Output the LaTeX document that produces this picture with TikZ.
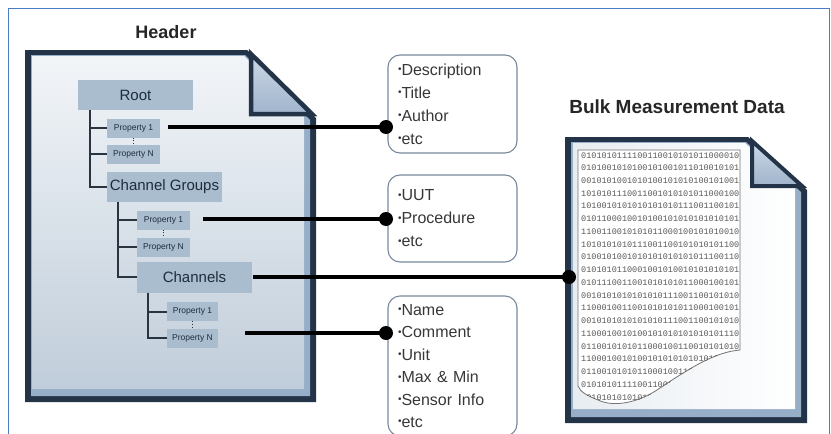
\documentclass[tikz,border=0pt]{standalone}
\usepackage{fontspec}
\setmainfont{Liberation Sans}
\newfontfamily\bitsfont{Liberation Mono}
\definecolor{boxblue}{RGB}{169,189,206}
\definecolor{navytext}{RGB}{30,44,60}
\definecolor{treeline}{RGB}{42,51,64}
\definecolor{infoedge}{RGB}{120,136,156}
\definecolor{infotext}{RGB}{55,55,55}
\definecolor{pagedark}{RGB}{36,52,72}
\definecolor{pagebevel}{RGB}{150,174,200}
\definecolor{pagetop}{RGB}{242,245,248}
\definecolor{pagebottom}{RGB}{192,205,218}
\definecolor{foldtop}{RGB}{205,216,230}
\definecolor{foldbottom}{RGB}{160,180,204}
\definecolor{frameblue}{RGB}{74,124,200}
\newcommand\dotmark{{\fontsize{10}{10}\selectfont\raisebox{2.5pt}{•}}}
\begin{document}
\begin{tikzpicture}[x=1pt,y=-1pt,
  levelbox/.style={fill=boxblue, text=navytext, font=\fontsize{15}{15}\selectfont, minimum width=115pt, minimum height=30pt, inner sep=0pt},
  propbox/.style={fill=boxblue, text=navytext, font=\fontsize{8.5}{8.5}\selectfont, minimum width=53pt, minimum height=19pt, inner sep=0pt},
  infobox/.style={draw=infoedge, line width=1.1pt, rounded corners=12pt, align=left, text width=109pt, minimum width=129pt, inner sep=0pt, font=\fontsize{16}{23}\selectfont, text=infotext},
  branch/.style={draw=treeline, line width=2pt},
  link/.style={draw=black, line width=4.5pt},
  joint/.style={circle, fill=black, minimum size=14pt, inner sep=0pt}]
\useasboundingbox (0,0) rectangle (831,434);

% header page
\fill[pagedark] (25,50) -- (247,50) -- (316,118) -- (316,402) -- (25,402) -- cycle;
\fill[pagebevel] (31,55) -- (245,55) -- (310,120) -- (310,396) -- (31,396) -- cycle;
\shade[top color=pagetop, bottom color=pagebottom] (32,56) -- (244,56) -- (304,116) -- (304,389) -- (32,389) -- cycle;
\path[draw=pagedark, line width=4.5pt, top color=foldtop, bottom color=foldbottom] (251,54) -- (251,114) -- (312,114) -- cycle;
\node[font=\bfseries\fontsize{18}{18}\selectfont, text=black!85] (headtitle) at (166,32) {Header};

% bulk data page
\fill[pagedark] (565,137) -- (748,137) -- (807,190) -- (807,423) -- (565,423) -- cycle;
\fill[pagebevel] (571,142) -- (746,142) -- (801,192) -- (801,417) -- (571,417) -- cycle;
\shade[left color=pagetop!80!pagebottom, right color=white] (573,143) -- (745,143) -- (795,188) -- (795,409) -- (573,409) -- cycle;
\path[draw=pagedark, line width=4pt, top color=foldtop, bottom color=foldbottom] (752,141) -- (752,186) -- (802,186) -- cycle;
\node[font=\bfseries\fontsize{19}{19}\selectfont, text=black!85] (bulktitle) at (677,107) {Bulk Measurement Data};

% torn sheet of numbers
\filldraw[fill=white, draw=black!55, line width=0.8pt] (578,150) -- (740,150) -- (740,350) .. controls (715,352) and (690,368) .. (660,388) .. controls (640,402) and (615,408) .. (598,400) .. controls (588,396) and (580,392) .. (578,386) -- cycle;
\begin{scope}
\clip (578,150) -- (740,150) -- (740,350) .. controls (715,352) and (690,368) .. (660,388) .. controls (640,402) and (615,408) .. (598,400) .. controls (588,396) and (580,392) .. (578,386) -- cycle;
\foreach \bits [count=\i from 0] in {0101010111100110010101011000010,0101001010100101001011010010101,0010101001010100101010100101001,1010101110011001010101011000100,1010010101010101010111001100101,0101100010010100101010101010101,1100110010101011000100101010010,1010101010111001100101010101100,0100101001010101010101011100110,0101010110001001010010101010101,0101110011001010101011000100101,0010101010101010111001100101010,1100010011001010101011000100101,0010101010101010111001100101010,1100010010100101010101010101110,0110010101011000100110010101010,1100010010100101010101010100000,0110010101011000100110010101010,0101010111100110010101010101010,0010101010101010111001100101010}
  \node[anchor=base west, inner sep=0pt, font=\bitsfont\fontsize{8.5}{8.5}\selectfont, text=black!65] (bits\i) at (581,158+12.74*\i) {\bits};
\end{scope}

% tree of header objects
\node[levelbox] (root) at (135.5,95) {Root};
\node[propbox] (rp1) at (133.5,128) {Property 1};
\node[propbox] (rpn) at (133.5,154) {Property N};
\node[levelbox] (grp) at (164.5,187) {Channel Groups};
\node[propbox] (gp1) at (163.5,220) {Property 1};
\node[propbox] (gpn) at (163.5,247) {Property N};
\node[levelbox, minimum height=31pt] (chn) at (194.5,277) {Channels};
\node[propbox, minimum width=51pt] (cp1) at (192.5,311.5) {Property 1};
\node[propbox, minimum width=51pt] (cpn) at (192.5,338) {Property N};
\draw[branch] ([xshift=12pt]root.south west) |- (rp1.west);
\draw[branch] ([xshift=12pt]root.south west) |- (rpn.west);
\draw[branch] ([xshift=12pt]root.south west) |- (grp.west);
\draw[branch] ([xshift=11pt]grp.south west) |- (gp1.west);
\draw[branch] ([xshift=11pt]grp.south west) |- (gpn.west);
\draw[branch] ([xshift=11pt]grp.south west) |- (chn.west);
\draw[branch] ([xshift=11pt]chn.south west) |- (cp1.west);
\draw[branch] ([xshift=11pt]chn.south west) |- (cpn.west);
\draw[treeline, dotted, line width=0.7pt] (rp1.south) -- (rpn.north);
\draw[treeline, dotted, line width=0.7pt] (gp1.south) -- (gpn.north);
\draw[treeline, dotted, line width=0.7pt] (cp1.south) -- (cpn.north);

% property lists
\node[infobox, minimum height=98pt] (info1) at (452.5,104) {\dotmark{}Description\\\dotmark{}Title\\\dotmark{}Author\\\dotmark{}etc};
\node[infobox, minimum height=87pt] (info2) at (452.5,218.5) {\dotmark{}UUT\\\dotmark{}Procedure\\\dotmark{}etc};
\node[infobox, minimum height=140pt, font=\fontsize{16}{22.4}\selectfont] (info3) at (452.5,366) {\dotmark{}Name\\\dotmark{}Comment\\\dotmark{}Unit\\\dotmark{}Max \& Min\\\dotmark{}Sensor Info\\\dotmark{}etc};

% connectors
\node[joint] (d1) at (386,127) {};
\node[joint] (d2) at (386,219) {};
\node[joint] (d3) at (569,277) {};
\node[joint] (d4) at (386,333) {};
\draw[link] (rp1.east |- d1) ++(8,0) -- (d1.center);
\draw[link] (gp1.east |- d2) ++(13,0) -- (d2.center);
\draw[link] (chn.east |- d3) ++(1,0) -- (d3.center);
\draw[link] (cpn.east |- d4) ++(27,0) -- (d4.center);

% outer frame
\draw[frameblue, line width=1.5pt] (8.5,440) -- (8.5,8.5) -- (829.5,8.5) -- (829.5,440);
\end{tikzpicture}
\end{document}
